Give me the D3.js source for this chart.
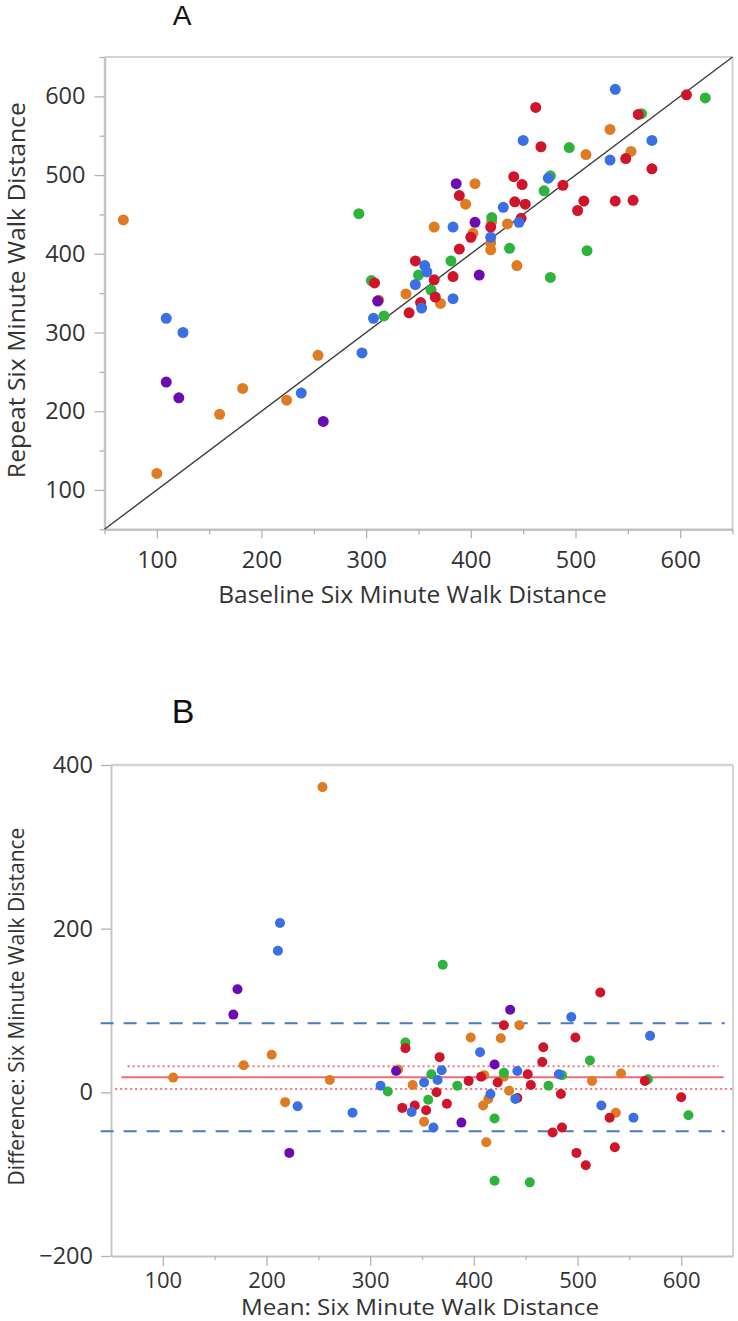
<!DOCTYPE html>
<html><head><meta charset="utf-8">
<script src="https://cdn.jsdelivr.net/npm/d3@7/dist/d3.min.js"></script>
<style>
body{margin:0;background:#fff}
svg{display:block}
.tick text{font-family:"Open Sans",sans-serif;font-size:23.5px;fill:#333}
.bx .tick text{font-size:22px}
.ttl{font-family:"Open Sans",sans-serif;font-size:24.5px;fill:#333}
</style>
</head><body>
<svg id="chart" width="738" height="1321"></svg>
<script>
// ---------- groups ----------
const groupNames = ["blue","red","green","orange","purple"];
const groupColors = ["#3a70e3","#d0152a","#2eb33c","#df7b22","#6c0bb0"];
const drawOrder = ["orange","green","red","blue","purple"];

// ---------- Panel A: baseline vs repeat ----------
const aBaselineBlue = [109,125,238,296,538,450,573,533,474,431,383,446,419,356,358,347,353,383,307];
const aRepeatBlue   = [318,300,223,274,609,544,544,519,496,459,434,440,421,385,377,361,331,343,318];
const aBaselineRed  = [606,462,560,467,548,573,441,449,488,389,442,452,508,502,538,555,419,448,400,389,347,383,365,366,352,341,308];
const aRepeatRed    = [602,586,577,536,521,508,498,488,487,474,466,463,467,455,467,468,434,445,421,406,391,371,367,345,338,325,363];
const aBaselineGreen= [293,624,563,494,476,470,420,437,511,476,381,350,362,305,317];
const aRepeatGreen  = [451,598,578,535,499,480,446,407,404,370,391,373,354,366,321];
const aBaselineOrange=[68,182,160,224,254,100,533,510,553,404,395,365,420,435,402,419,419,444,338,371,312];
const aRepeatOrange  =[443,229,196,214,271,121,558,526,530,489,463,434,441,438,426,414,405,385,349,337,341];
const aBaselinePurple=[109,121,259,386,404,408,311];
const aRepeatPurple  =[237,217,187,489,440,373,340];

// ---------- Panel B: mean vs difference ----------
const bMeanBlue = [213,211,230,283,494,570,406,369,365,310,352,442,440,416,340,361,482,523,554];
const bDiffBlue = [207,173,-17,-25,92,69,49,27,15,8,12,26,-8,-2,-24,-43,22,-16,-31];
const bMeanRed  = [522,429,498,334,367,467,466,395,407,423,452,455,442,374,364,354,343,331,484,485,476,531,499,508,536,565,600];
const bDiffRed  = [122,82,67,54,43,55,37,14,19,12,22,9,-7,-14,0,-22,-16,-19,-2,-43,-49,-31,-74,-89,-67,14,-6];
const bMeanGreen= [370,334,512,359,317,384,429,420,356,420,454,472,485,607,568];
const bDiffGreen= [156,61,39,22,1,8,24,-32,-9,-108,-110,8,21,-28,16];
const bMeanOrange=[254,205,178,110,261,218,444,397,426,327,341,410,429,434,414,409,412,352,514,537,542];
const bDiffOrange=[373,46,33,18,15,-12,82,67,66,28,9,21,19,2,-8,-16,-61,-36,14,-25,23];
const bMeanPurple=[172,168,222,435,420,325,388];
const bDiffPurple=[126,95,-74,101,34,26,-37];

// Bland-Altman statistics
const biasValue = [18.5];
const biasCI = [32, 4];
const limitsOfAgreement = [84.5, -47.5];
const loaExtent = [40, 642];
const biasExtent = [60, 641];
const ciExtents = [[66, 636],[54, 650]];

// ticks
const axisTicksA = [100,200,300,400,500,600];
const axisMinorA = [50,150,250,350,450,550,650];
const bYTicks = [-200,0,200,400];
const bXTicks = [100,200,300,400,500,600];
const bXMinor = [150,250,350,450,550];

const titleA = "A", titleB = "B";
const xTitleA = "Baseline Six Minute Walk Distance";
const yTitleA = "Repeat Six Minute Walk Distance";
const xTitleB = "Mean: Six Minute Walk Distance";
const yTitleB = "Difference: Six Minute Walk Distance";

// ---------- build point tables ----------
const aX = {blue:aBaselineBlue,red:aBaselineRed,green:aBaselineGreen,orange:aBaselineOrange,purple:aBaselinePurple};
const aY = {blue:aRepeatBlue,red:aRepeatRed,green:aRepeatGreen,orange:aRepeatOrange,purple:aRepeatPurple};
const bX = {blue:bMeanBlue,red:bMeanRed,green:bMeanGreen,orange:bMeanOrange,purple:bMeanPurple};
const bY = {blue:bDiffBlue,red:bDiffRed,green:bDiffGreen,orange:bDiffOrange,purple:bDiffPurple};
function table(X,Y){
  const out=[];
  drawOrder.forEach(g=>X[g].forEach((v,i)=>out.push({g,x:v,y:Y[g][i]})));
  return out;
}
const ptsA = table(aX,aY), ptsB = table(bX,bY);
const color = d3.scaleOrdinal(groupNames, groupColors);

const svg = d3.select("#chart");

function styleAxis(g, w){
  g.select(".domain").attr("stroke","#c4c4c4").attr("stroke-width",w);
  g.selectAll(".tick line").attr("stroke","#b4b4b4").attr("stroke-width",1.3);
}
function styleMinor(g){
  g.select(".domain").remove();
  g.selectAll(".tick line").attr("stroke","#b4b4b4").attr("stroke-width",1.3);
}

// ---------- Panel A ----------
const xA = d3.scaleLinear([50,650],[104.5,732.5]);
const yA = d3.scaleLinear([50,650],[529.3,57]);
const gA = svg.append("g");

gA.append("line").attr("x1",xA(50)).attr("x2",xA(650)).attr("y1",yA(650)).attr("y2",yA(650)).attr("stroke","#d4d4d4").attr("stroke-width",2);
gA.append("line").attr("x1",xA(650)).attr("x2",xA(650)).attr("y1",yA(650)).attr("y2",yA(50)).attr("stroke","#d4d4d4").attr("stroke-width",2);

const axXA = gA.append("g").attr("transform",`translate(0,${yA(50)})`)
  .call(d3.axisBottom(xA).tickValues(axisTicksA).tickSize(9).tickPadding(13).tickSizeOuter(0));
styleAxis(axXA,2.5);
gA.append("g").attr("transform",`translate(0,${yA(50)})`)
  .call(d3.axisBottom(xA).tickValues(axisMinorA).tickSize(5).tickFormat("").tickSizeOuter(0)).call(styleMinor);
const axYA = gA.append("g").attr("transform",`translate(${xA(50)},0)`)
  .call(d3.axisLeft(yA).tickValues(axisTicksA).tickSize(10).tickPadding(9).tickSizeOuter(0));
styleAxis(axYA,2.5);
gA.append("g").attr("transform",`translate(${xA(50)},0)`)
  .call(d3.axisLeft(yA).tickValues(axisMinorA).tickSize(5).tickFormat("").tickSizeOuter(0)).call(styleMinor);

gA.append("line").attr("x1",xA(50)).attr("y1",yA(50)).attr("x2",xA(650)).attr("y2",yA(650))
  .attr("stroke","#3c3c3c").attr("stroke-width",1.4);

gA.append("g").selectAll("circle").data(ptsA).join("circle")
  .attr("cx",d=>xA(d.x)).attr("cy",d=>yA(d.y)).attr("r",5.5).attr("fill",d=>color(d.g));

gA.append("text").attr("class","ttl").attr("x",(xA(50)+xA(650))/2-6).attr("y",603).attr("text-anchor","middle").text(xTitleA);
gA.append("text").attr("class","ttl").style("font-size","23px")
  .attr("transform",`translate(25,${(yA(50)+yA(650))/2-3}) rotate(-90)`).attr("text-anchor","middle")
  .attr("textLength",376).attr("lengthAdjust","spacingAndGlyphs").text(yTitleA);
gA.append("text").attr("x",182).attr("y",25).attr("text-anchor","middle")
  .style("font-family","'Liberation Sans',Arial,sans-serif").style("font-size","28px").attr("fill","#111").text(titleA);

// ---------- Panel B ----------
const xB = d3.scaleLinear([50,650],[111,733]);
const yB = d3.scaleLinear([-200,400],[1256,765]);
const gB = svg.append("g");
gB.append("line").attr("x1",xB(50)).attr("x2",xB(650)).attr("y1",yB(400)).attr("y2",yB(400)).attr("stroke","#d4d4d4").attr("stroke-width",2.5);
gB.append("line").attr("x1",xB(650)).attr("x2",xB(650)).attr("y1",yB(400)).attr("y2",yB(-200)).attr("stroke","#d4d4d4").attr("stroke-width",2);

const axXB = gB.append("g").attr("class","bx").attr("transform",`translate(0,${yB(-200)})`)
  .call(d3.axisBottom(xB).tickValues(bXTicks).tickSize(10).tickPadding(6).tickSizeOuter(0));
styleAxis(axXB,1.8);
gB.append("g").attr("transform",`translate(0,${yB(-200)})`)
  .call(d3.axisBottom(xB).tickValues(bXMinor).tickSize(4).tickFormat("").tickSizeOuter(0)).call(styleMinor);
const axYB = gB.append("g").attr("transform",`translate(${xB(50)},0)`)
  .call(d3.axisLeft(yB).tickValues(bYTicks).tickSize(10).tickPadding(8).tickSizeOuter(0));
styleAxis(axYB,1.8);

limitsOfAgreement.forEach(v=>{
  gB.append("line").attr("x1",xB(loaExtent[0])).attr("x2",xB(loaExtent[1])).attr("y1",yB(v)).attr("y2",yB(v))
    .attr("stroke","#4a78c8").attr("stroke-width",2).attr("stroke-dasharray","13,10");
});
biasCI.forEach((v,i)=>{
  gB.append("line").attr("x1",xB(ciExtents[i][0])).attr("x2",xB(ciExtents[i][1])).attr("y1",yB(v)).attr("y2",yB(v))
    .attr("stroke","#f07783").attr("stroke-width",2).attr("stroke-dasharray","2,3");
});
biasValue.forEach(v=>{
  gB.append("line").attr("x1",xB(biasExtent[0])).attr("x2",xB(biasExtent[1])).attr("y1",yB(v)).attr("y2",yB(v))
    .attr("stroke","#ee6a74").attr("stroke-width",2);
});

gB.append("g").selectAll("circle").data(ptsB).join("circle")
  .attr("cx",d=>xB(d.x)).attr("cy",d=>yB(d.y)).attr("r",5).attr("fill",d=>color(d.g));

gB.append("text").attr("class","ttl").style("font-size","21.5px")
  .attr("x",(xB(50)+xB(650))/2-2).attr("y",1314.5).attr("text-anchor","middle")
  .attr("textLength",358).attr("lengthAdjust","spacingAndGlyphs").text(xTitleB);
gB.append("text").attr("class","ttl").style("font-size","21px")
  .attr("transform",`translate(24,${(yB(-200)+yB(400))/2-4}) rotate(-90)`).attr("text-anchor","middle").text(yTitleB);
gB.append("text").attr("x",183).attr("y",723).attr("text-anchor","middle")
  .style("font-family","'Liberation Sans Narrow','Liberation Sans',sans-serif").style("font-size","34px").attr("fill","#111").text(titleB);
</script>
</body></html>
